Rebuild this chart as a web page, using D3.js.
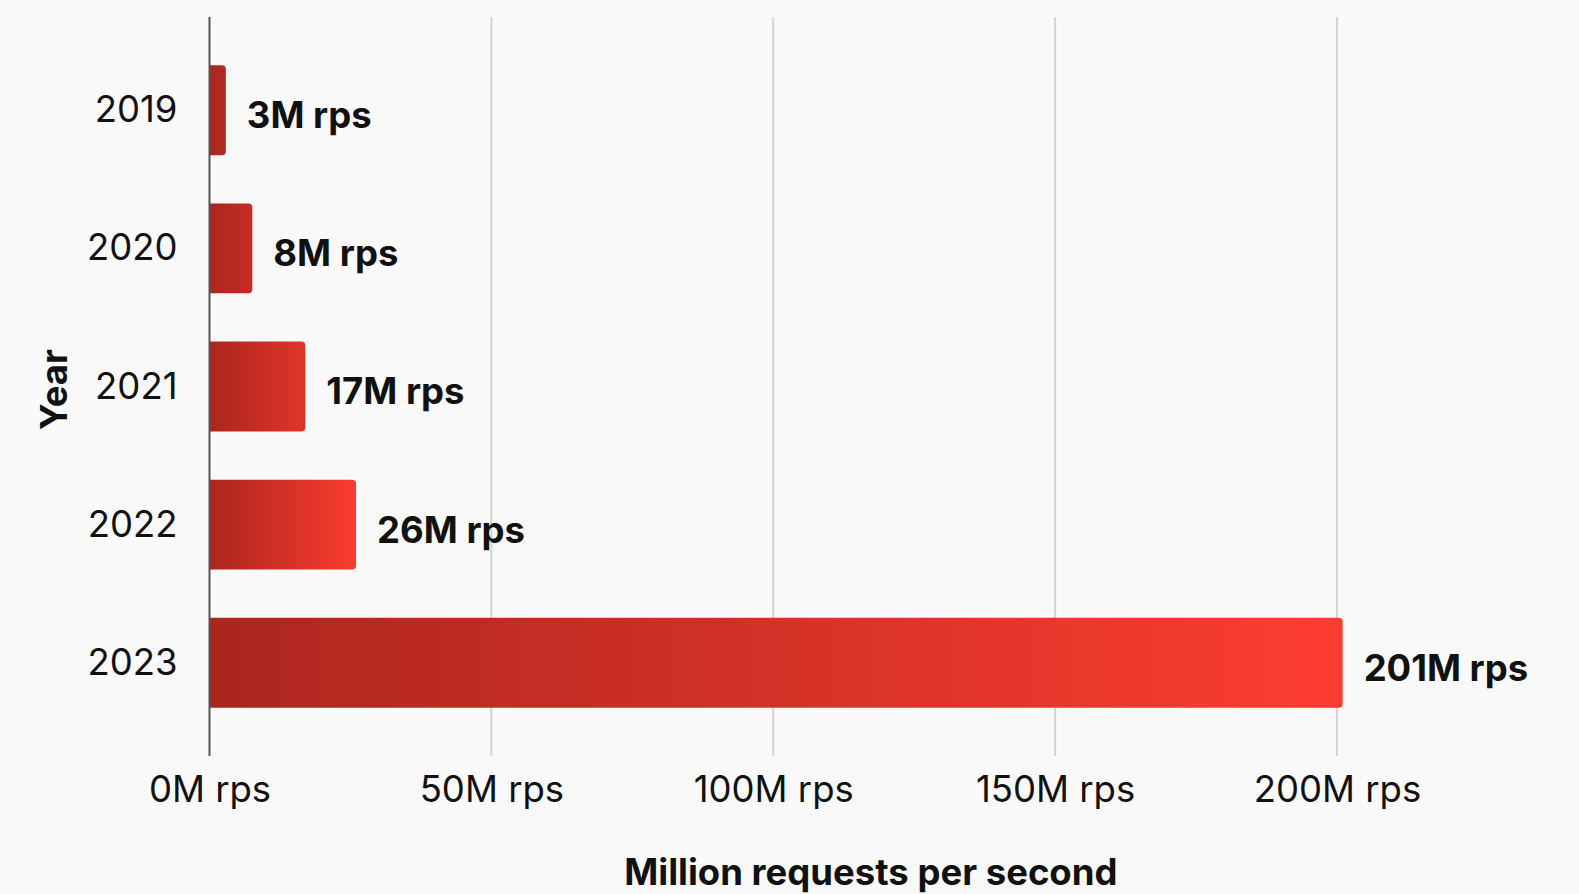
<!DOCTYPE html>
<html>
<head>
<meta charset="utf-8">
<script src="https://cdn.jsdelivr.net/npm/d3@7"></script>
<style>
  html, body { margin: 0; padding: 0; background: #f9f9f9; }
  svg { display: block; font-family: Inter, "Noto Sans", sans-serif; }
</style>
</head>
<body>
<svg id="chart" width="1579" height="894"></svg>
<script>
const years = ["2019", "2020", "2021", "2022", "2023"];
const values = [2.9, 7.6, 17, 26, 201];
const tickValues = [0, 50, 100, 150, 200];
const xTitle = "Million requests per second";
const yTitle = "Year";

const W = 1579, H = 894;
const margin = { left: 209.5, right: 44.7, top: 17, bottom: 138 };
const svg = d3.select("#chart");
const FS = 36.5;

const x = d3.scaleLinear().domain([0, 235]).range([margin.left, W - margin.right]);
const y = d3.scaleBand().domain(years).range([margin.top, H - margin.bottom]).paddingInner(0.35).paddingOuter(0.35);

const startColor = "#ab261e";
const endColor = "#fd3d31";
const colorAt = d3.scaleLinear().domain([0, 27]).range([0, 1]).clamp(true);
const interp = d3.interpolateRgb(startColor, endColor);

// gradients
const defs = svg.append("defs");
years.forEach((yr, i) => {
  const g = defs.append("linearGradient").attr("id", "grad" + i)
    .attr("x1", "0%").attr("x2", "100%").attr("y1", "0%").attr("y2", "0%");
  g.append("stop").attr("offset", "0%").attr("stop-color", startColor);
  g.append("stop").attr("offset", "100%").attr("stop-color", interp(colorAt(values[i]) * 0.98 + 0.02 * (i > 0 ? 1 : 0)));
});

// gridlines
svg.append("g").selectAll("line").data(tickValues.slice(1)).join("line")
  .attr("x1", d => x(d)).attr("x2", d => x(d))
  .attr("y1", margin.top).attr("y2", H - margin.bottom)
  .attr("stroke", "#d4d4d4").attr("stroke-width", 2);

// bars
const r = 4;
svg.append("g").selectAll("path").data(years).join("path")
  .attr("d", (d, i) => {
    const x0 = x(0), x1 = x(values[i]), y0 = y(d), h = y.bandwidth();
    return `M${x0},${y0}H${x1 - r}Q${x1},${y0} ${x1},${y0 + r}V${y0 + h - r}Q${x1},${y0 + h} ${x1 - r},${y0 + h}H${x0}Z`;
  })
  .attr("fill", (d, i) => `url(#grad${i})`);

// value labels
svg.append("g").selectAll("text").data(years).join("text")
  .attr("x", (d, i) => x(values[i]) + 21)
  .attr("y", d => y(d) + y.bandwidth() / 2 + 8)
  .attr("dominant-baseline", "middle")
  .attr("font-size", FS).attr("font-weight", 700).attr("fill", "#111")
  .text((d, i) => Math.round(values[i]) + "M rps");

// y axis
const yAxis = svg.append("g").attr("transform", `translate(${margin.left},0)`)
  .call(d3.axisLeft(y).tickSize(0).tickPadding(32));
yAxis.select(".domain").remove();
yAxis.selectAll("text").attr("font-size", FS).attr("fill", "#111").attr("font-family", "Inter, sans-serif").attr("dy", "0.33em");

svg.append("line")
  .attr("x1", x(0)).attr("x2", x(0))
  .attr("y1", margin.top).attr("y2", H - margin.bottom)
  .attr("stroke", "#555").attr("stroke-width", 2);

// x axis
const xAxis = svg.append("g").attr("transform", `translate(0,${H - margin.bottom})`)
  .call(d3.axisBottom(x).tickValues(tickValues).tickSize(0).tickPadding(20).tickFormat(d => d + "M rps"));
xAxis.select(".domain").remove();
xAxis.selectAll("text").attr("font-size", FS).attr("fill", "#111").attr("font-family", "Inter, sans-serif");

// titles
svg.append("text")
  .attr("x", (x.range()[0] + x.range()[1]) / 2 - 1).attr("y", 885)
  .attr("text-anchor", "middle").attr("font-size", FS).attr("font-weight", 700).attr("fill", "#111")
  .text(xTitle);

svg.append("text")
  .attr("transform", `translate(67,${(margin.top + H - margin.bottom) / 2 + 3}) rotate(-90)`)
  .attr("text-anchor", "middle").attr("font-size", FS).attr("font-weight", 700).attr("fill", "#111")
  .text(yTitle);
</script>
</body>
</html>
